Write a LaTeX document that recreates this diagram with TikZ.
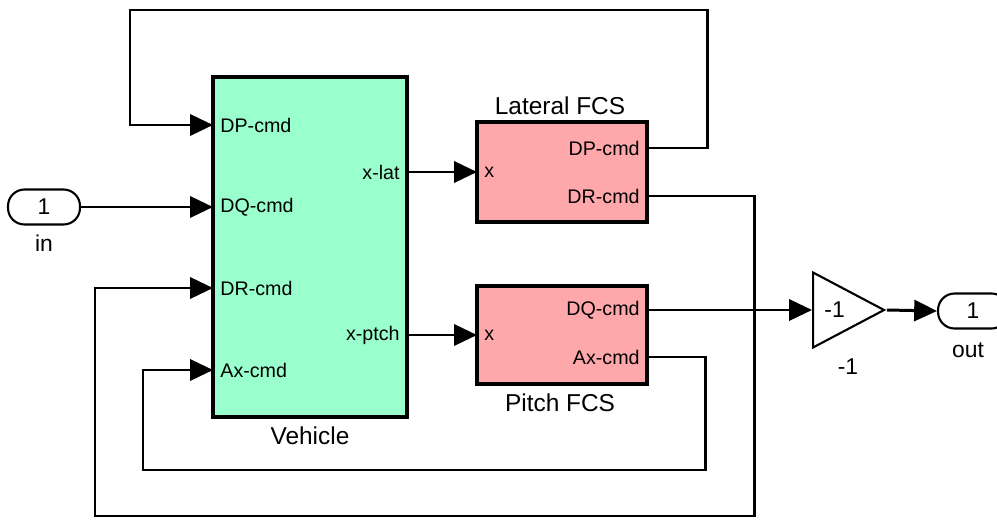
\documentclass[tikz,border=0pt]{standalone}
\usepackage{fontspec}
\setmainfont{Liberation Sans}
\usepackage{xcolor}
\usepackage{tikz}
\usetikzlibrary{arrows.meta, shapes.geometric}
\definecolor{vehfill}{RGB}{153,255,204}
\definecolor{fcsfill}{RGB}{255,168,172}

\begin{document}
\begin{tikzpicture}[x=0.02cm, y=-0.02cm,
  every node/.style={font=\fontsize{11.2}{13}\selectfont},
  block/.style={draw, line width=1.8pt, inner sep=0pt},
  blkname/.style={font=\fontsize{13.9}{16}\selectfont},
  portin/.style={anchor=west, inner sep=4pt},
  portout/.style={anchor=east, inner sep=4pt},
  io/.style={draw, line width=1.2pt, rounded corners=0.33cm, minimum height=0.7cm, inner sep=0pt, font=\fontsize{13}{15}\selectfont},
  gainblk/.style={draw, isosceles triangle, isosceles triangle stretches, shape border rotate=0,
    minimum height=1.42cm, minimum width=1.5cm, line width=1.2pt, inner sep=0pt, font=\fontsize{13}{15}\selectfont},
  arrow/.style={-{Triangle[length=13pt, width=12pt]}, line width=1.7pt}
]
\useasboundingbox (0,0) rectangle (997,520);

% Vehicle block
\node[block, fill=vehfill, minimum width=3.88cm, minimum height=6.8cm] (veh) at (310,247) {};
\node[blkname] (vehname) at (310,436) {Vehicle};
\node[portin] (vehdp) at (213,125) {DP-cmd};
\node[portin] (vehdq) at (213,207) {DQ-cmd};
\node[portin] (vehdr) at (213,288) {DR-cmd};
\node[portin] (vehax) at (213,370) {Ax-cmd};
\node[portout] (vehlat) at (407,172) {x-lat};
\node[portout] (vehpch) at (407,335) {x-ptch};

% Lateral FCS
\node[block, fill=fcsfill, minimum width=3.4cm, minimum height=2.0cm] (lat) at (562,172) {};
\node[blkname] (latname) at (560,106) {Lateral FCS};
\node[portin] (latx) at (477,172) {x};
\node[portout] (latdp) at (647,148) {DP-cmd};
\node[portout] (latdr) at (647,196) {DR-cmd};

% Pitch FCS
\node[block, fill=fcsfill, minimum width=3.4cm, minimum height=1.96cm] (pch) at (562,335) {};
\node[blkname] (pchname) at (560,403) {Pitch FCS};
\node[portin] (pchx) at (477,335) {x};
\node[portout] (pchdq) at (647,310) {DQ-cmd};
\node[portout] (pchax) at (647,357) {Ax-cmd};

% In / out ports and gain
\node[io, minimum width=1.44cm] (inp) at (44,207) {1};
\node[blkname, font=\fontsize{13}{15}\selectfont] (inname) at (44,243) {in};
\node[gainblk, anchor=west] (gain) at (812,310) {-1};
\node[blkname, font=\fontsize{13}{15}\selectfont] (gainname) at (848,367) {-1};
\node[io, minimum width=1.4cm, anchor=west] (outp) at (937,311) {1};
\node[blkname, font=\fontsize{13}{15}\selectfont] (outname) at (968,350) {out};

% Bends of the feedback lines
\coordinate (topR) at (707,10);
\coordinate (topL) at (130,10);
\coordinate (drR) at (754,516);
\coordinate (drL) at (95,516);
\coordinate (axR) at (705,470);
\coordinate (axL) at (143,470);

% Signals
\draw[arrow] (inp.east) -- (vehdq.west);
\draw[arrow] (vehlat.east) -- (latx.west);
\draw[arrow] (vehpch.east) -- (pchx.west);
\draw[arrow] (latdp.east) -| (topR) -- (topL) |- (vehdp.west);
\draw[arrow] (latdr.east) -| (drR) -- (drL) |- (vehdr.west);
\draw[arrow] (pchax.east) -| (axR) -- (axL) |- (vehax.west);
\draw[arrow] (pchdq.east) -- (gain.west);
\draw[arrow] (gain.apex) -- (outp.west);

\end{tikzpicture}
\end{document}
